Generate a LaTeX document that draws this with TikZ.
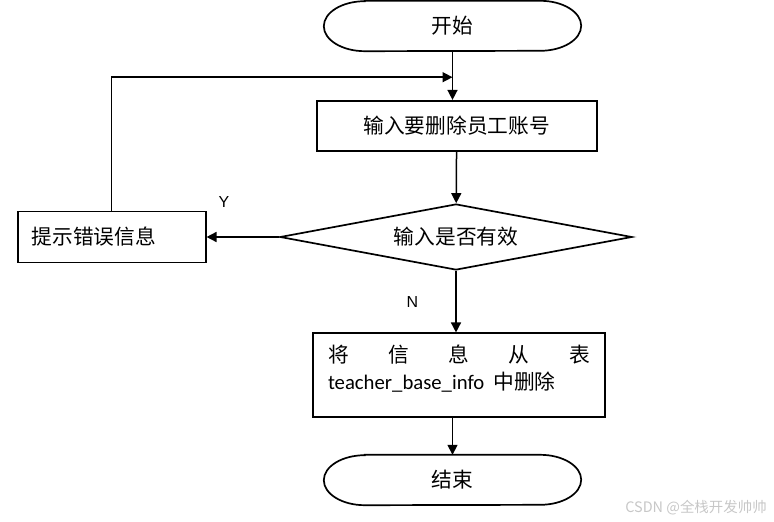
\documentclass[tikz,border=0pt]{standalone}
\usepackage{fontspec}
\setmainfont{Noto Sans CJK SC}
\newfontfamily\calibri{Carlito}
\newfontfamily\arial{Liberation Sans}
\usetikzlibrary{shapes.geometric, arrows.meta, positioning}

\tikzset{
	box/.style = {draw, line width=1.7bp, font=\fontsize{20.8}{26.7}\selectfont},
	term/.style = {minimum width=257bp, minimum height=50bp, font=\fontsize{20.8}{26.7}\selectfont},
	choice/.style = {draw, shape=diamond, aspect=5, inner sep=0, line width=1.7bp,
		minimum width=352bp, minimum height=66bp, font=\fontsize{20.8}{26.7}\selectfont},
	arrow/.style = {-{Triangle[length=10bp, width=10bp]}, line width=1.5bp},
	yn/.style = {font=\arial\fontsize{16}{18}\selectfont, inner sep=0}
}

\begin{document}
\begin{tikzpicture} [x=1bp, y=-1bp, on grid]
\useasboundingbox (0,0) rectangle (774,522);

\node (start) [term] at (452.5,26) {开始};
\node (inp) [box, minimum width=280bp, minimum height=50.5bp, below=100bp of start, xshift=4.2bp] {输入要删除员工账号};
\node (check) [choice, below=111bp of inp, xshift=-0.7bp] {输入是否有效};
\node (err) [box, minimum height=51bp, text width=160bp, align=left, inner xsep=14bp, left=344.3bp of check] {提示错误信息};
\node (del) [box, minimum width=292bp, minimum height=83.3bp, inner xsep=15bp, inner ysep=11.7bp, below=138bp of check, xshift=3bp]
	{\parbox[c][60bp][t]{262bp}{\makebox[\linewidth]{将\hfill 信\hfill 息\hfill 从\hfill 表}\\
	{\calibri teacher\_base\_info}\hspace{9bp}中删除}};
\node (stop) [term, below=105bp of del, xshift=-6.5bp] {结束};
\coordinate [below=26bp of start.south] (join);

% terminator outlines
\foreach \n in {start, stop}
	\draw [line width=1.7bp] ([xshift=41bp]\n.north west) -- ([xshift=-41bp]\n.north east)
		arc [start angle=90, end angle=-90, x radius=41bp, y radius=25bp]
		-- ([xshift=41bp]\n.south west)
		arc [start angle=270, end angle=90, x radius=41bp, y radius=25bp] -- cycle;

\path [arrow]
	(start) edge (start |- inp.north)
	(inp) edge (check)
	(check) edge node [yn, pos=0.76, above=29bp] {Y} (check.west -| err.east)
	(check) edge node [yn, midway, left=37bp] {N} (check.south |- del.north)
	(del.south -| stop) edge (stop);
\draw [arrow] (err.north) |- (join);

\node (mark) [font=\fontsize{14.5}{16}\selectfont, text=black!22] at (696,508) {CSDN @全栈开发帅帅};
\end{tikzpicture}
\end{document}
